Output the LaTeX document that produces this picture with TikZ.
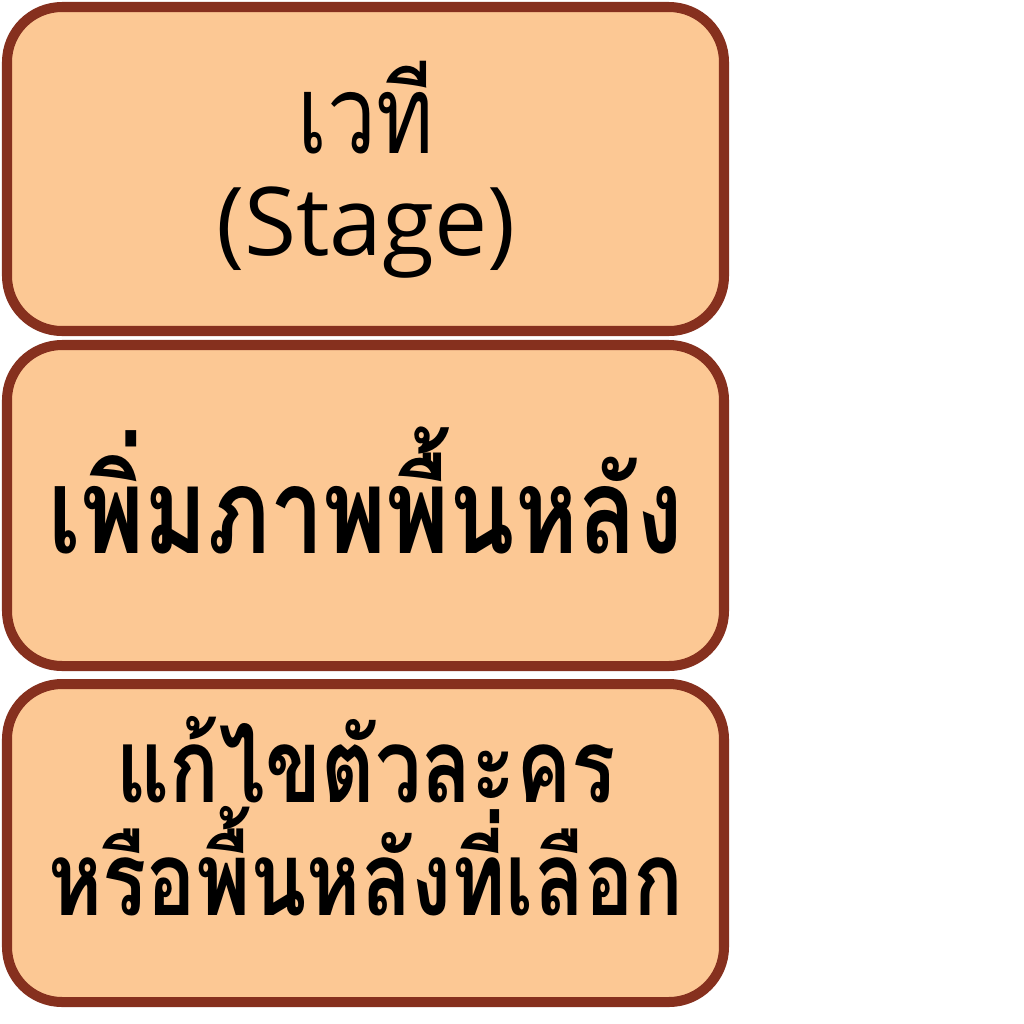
\documentclass[tikz,border=0pt]{standalone}
\usepackage{fontspec}
\setmainfont{Open Sans}
\newfontfamily\thaifont[Script=Thai,FakeStretch=0.8]{Loma}
\definecolor{boxfill}{HTML}{FCC894}
\definecolor{boxline}{HTML}{86301E}
\begin{document}
\begin{tikzpicture}[menu/.style={draw=boxline,fill=boxfill,line width=2.85pt,rounded corners=0.55cm},menut/.style={align=center,font=\thaifont\bfseries\fontsize{29.3}{32}\selectfont}]
\def\xl{0.07};
\def\xr{7.24};
\useasboundingbox (0,0) rectangle (10.24,-10.24);

\draw[menu] (\xl,-0.07) rectangle (\xr,-3.31);
\node[menut,font=\thaifont\fontsize{31}{29}\selectfont] (Stg) at (3.66,-1.7) {เวที\\{\normalfont\fontsize{27}{29}\selectfont(Stage)}};

\draw[menu] (\xl,-3.45) rectangle (\xr,-6.66);
\node[menut,font=\thaifont\bfseries\fontsize{34}{36}\selectfont] (Bg) at (3.66,-4.9) {เพิ่มภาพพื้นหลัง};

\draw[menu] (\xl,-6.84) rectangle (\xr,-10.02);
\node[menut] (Ed) at (3.66,-8.16) {แก้ไขตัวละคร\\หรือพื้นหลังที่เลือก};
\end{tikzpicture}
\end{document}
